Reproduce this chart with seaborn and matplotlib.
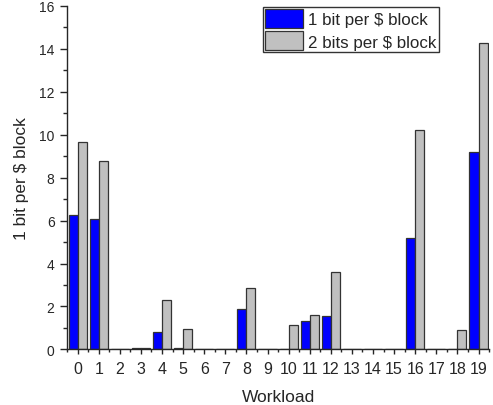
import numpy as np
import pandas as pd
import seaborn as sns
import matplotlib.pyplot as plt

workloads = list(range(20))
one_bit = [6.28, 6.08, 0.0, 0.05, 0.80, 0.08, 0.02, 0.0, 1.90, 0.0,
           0.02, 1.30, 1.56, 0.0, 0.0, 0.01, 5.17, 0.0, 0.03, 9.18]
two_bits = [9.65, 8.77, 0.0, 0.05, 2.29, 0.95, 0.02, 0.0, 2.86, 0.0,
            1.15, 1.61, 3.60, 0.0, 0.0, 0.0, 10.20, 0.0, 0.92, 14.25]
series = ['1 bit per $ block', '2 bits per $ block']
palette = {'1 bit per $ block': '#0000FF', '2 bits per $ block': '#C0C0C0'}

sns.set_style('ticks')
plt.rcParams.update({
    "font.family": ["Liberation Sans", "DejaVu Sans"],
    "font.size": 11})

df = pd.DataFrame({'workload': workloads * 2,
                   'value': one_bit + two_bits,
                   'series': [series[0]] * 20 + [series[1]] * 20})

fig = plt.figure(figsize=(4.93, 4.06), dpi=100)
ax = fig.add_axes([0.136, 0.137, 0.856, 0.846])
sns.barplot(df, x='workload', y='value', hue='series', palette=palette,
            width=0.86, edgecolor='#333333', linewidth=0.9, saturation=1,
            ax=ax)

ax.set_ylim(0, 16)
ax.set_yticks(np.arange(0, 17, 2))
ax.set_yticks(np.arange(1, 16, 2), minor=True)
ax.set_xlim(-0.47, 19.47)
ax.set_xticks(np.arange(-0.5, 20, 1), minor=True)
ax.tick_params(axis='y', which='major', length=5, width=1, pad=4, labelsize=10)
ax.tick_params(axis='y', which='minor', length=3, width=1)
ax.tick_params(axis='x', which='major', length=3.5, width=1, pad=5, labelsize=11.5)
ax.tick_params(axis='x', which='minor', length=2.5, width=1)
sns.despine(ax=ax)
ax.spines['left'].set_linewidth(1)
ax.spines['bottom'].set_linewidth(1)

ax.set_xlabel('Workload', fontsize=12.5, labelpad=9)
ax.set_ylabel('1 bit per $ block', fontsize=12.5, labelpad=7)

leg = ax.legend(loc='upper right', bbox_to_anchor=(0.881, 0.997), frameon=True,
                fancybox=False, edgecolor='#333333', framealpha=1,
                borderpad=0.12, handlelength=2.25, handleheight=1.35,
                handletextpad=0.3, labelspacing=0.2, borderaxespad=0,
                fontsize=12.2)
leg.get_frame().set_linewidth(1)

plt.savefig('out.png', dpi=100)
plt.close()
